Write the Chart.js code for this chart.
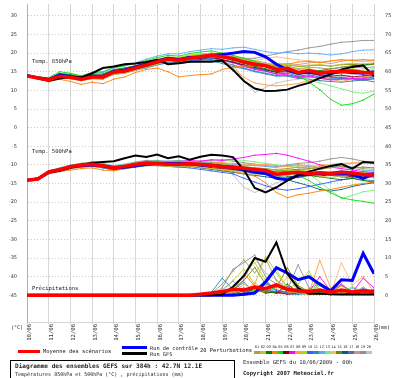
<!DOCTYPE html>
<html>
<head>
<meta charset="utf-8">
<script src="https://cdn.jsdelivr.net/npm/chart.js@4.4.0/dist/chart.umd.min.js"></script>
<style>
  body { margin: 0; background: #fff; width: 400px; height: 378px; overflow: hidden; position: relative; font-family: "DejaVu Sans Mono", monospace; color: #222; }
  #wrap { position: absolute; left: 0; top: 0; width: 400px; height: 345px; }
  .t { position: absolute; white-space: nowrap; line-height: 1; }
  .sw { position: absolute; }
  #box { position: absolute; left: 10px; top: 360px; width: 225px; height: 20px; border: 1px solid #000; box-sizing: border-box; }
  #perts { position: absolute; left: 254px; top: 346px; display: flex; }
  #perts div { width: 5.9px; text-align: center; font-size: 3.6px; line-height: 1; }
  #perts span { display: block; height: 3px; margin-top: 1px; }
</style>
</head>
<body>
<div id="wrap"><canvas id="gefs" width="400" height="345"></canvas></div>

<div class="t" style="left:32px;top:59px;font-size:5.5px">Temp. 850hPa</div>
<div class="t" style="left:32px;top:149px;font-size:5.5px">Temp. 500hPa</div>
<div class="t" style="left:32px;top:286px;font-size:5.5px">Précipitations</div>
<div class="t" style="left:11px;top:325px;font-size:5px">(°C)</div>
<div class="t" style="left:378px;top:325px;font-size:5px">(mm)</div>

<div class="sw" style="left:18px;top:350px;width:22px;height:3px;background:#ff0000"></div>
<div class="t" style="left:43px;top:349px;font-size:5.4px">Moyenne des scénarios</div>
<div class="sw" style="left:122px;top:346px;width:25px;height:3px;background:#0000ff"></div>
<div class="sw" style="left:122px;top:352px;width:25px;height:3px;background:#000"></div>
<div class="t" style="left:150px;top:346px;font-size:5.3px">Run de contrôle</div>
<div class="t" style="left:150px;top:352px;font-size:5.3px">Run GFS</div>
<div class="t" style="left:200px;top:348px;font-size:5.4px">20 Perturbations</div>
<div id="perts"></div>

<div id="box"></div>
<div class="t" style="left:15px;top:363px;font-size:6.1px;font-weight:bold">Diagramme des ensembles GEFS sur 384h : 42.7N 12.1E</div>
<div class="t" style="left:15px;top:372px;font-size:5px">Températures 850hPa et 500hPa (°C) , précipitations (mm)</div>
<div class="t" style="left:243px;top:360px;font-size:5.5px">Ensemble GEFS du 10/06/2009 - 00h</div>
<div class="t" style="left:243px;top:371px;font-size:5.6px;font-weight:bold">Copyright 2007 Meteociel.fr</div>

<script>
const hours = [0, 12, 24, 36, 48, 60, 72, 84, 96, 108, 120, 132, 144, 156, 168, 180, 192,
  204, 216, 228, 240, 252, 264, 276, 288, 300, 312, 324, 336, 348, 360, 372, 384];
const dayLabels = ['10/06', '11/06', '12/06', '13/06', '14/06', '15/06', '16/06', '17/06', '18/06',
  '19/06', '20/06', '21/06', '22/06', '23/06', '24/06', '25/06', '26/06'];
const leftTicks = [30, 25, 20, 15, 10, 5, 0, -5, -10, -15, -20, -25, -30, -35, -40, -45];
const rightTicks = [75, 70, 65, 60, 55, 50, 45, 40, 35, 30, 25, 20, 15, 10, 5, 0];

// 850 hPa (°C)
const t850Mean = [13.9, 13.3, 12.8, 13.8, 13.5, 13.0, 13.6, 13.6, 14.9, 15.2, 16.0, 16.8, 17.7,
  18.4, 18.1, 18.6, 19.0, 19.4, 19.0, 18.5, 17.6, 17.0, 16.6, 15.6, 15.9, 14.8, 15.3, 14.7, 15.0, 15.1, 15.2, 14.8, 14.6];
const t850Ctrl = [14.0, 13.4, 12.9, 14.1, 13.7, 13.2, 13.8, 13.8, 15.1, 15.5, 16.3, 17.0, 17.9,
  18.6, 18.3, 18.8, 18.9, 19.4, 19.6, 20.0, 20.4, 20.2, 19.0, 17.0, 15.5, 14.6, 15.0, 14.8, 14.6, 15.0, 14.8, 14.6, 15.0];
const t850Gfs = [13.9, 13.2, 12.6, 13.2, 13.6, 13.5, 14.6, 16.0, 16.4, 17.0, 17.2, 17.6, 18.2,
  17.0, 17.3, 17.7, 17.7, 17.7, 18.0, 15.5, 12.5, 10.5, 9.8, 9.9, 10.2, 11.2, 12.0, 13.3, 14.3, 15.6, 16.3, 16.7, 13.8];
const t850Perts = [
  [13.9, 13.4, 13.0, 14.2, 13.9, 13.3, 14.0, 14.2, 15.4, 15.8, 16.5, 17.2, 18.2, 18.8, 18.5, 19.0, 19.3, 19.8, 19.4, 19.0, 18.2, 17.5, 17.0, 16.3, 16.6, 15.8, 16.2, 16.0, 15.7, 16.2, 16.4, 16.0, 16.3],
  [13.9, 13.2, 12.6, 13.6, 13.2, 12.7, 13.1, 13.0, 14.3, 14.6, 15.4, 16.2, 17.0, 17.8, 17.6, 18.2, 18.6, 19.0, 18.7, 18.4, 17.8, 17.4, 17.2, 16.8, 17.0, 16.5, 16.8, 16.9, 16.6, 17.0, 17.3, 17.1, 17.4],
  [13.9, 13.5, 13.1, 14.5, 14.2, 13.6, 14.3, 14.4, 15.6, 16.0, 16.6, 17.3, 18.0, 18.6, 18.4, 19.1, 19.2, 19.5, 18.9, 18.0, 17.2, 16.5, 15.8, 15.0, 15.4, 14.6, 15.0, 15.3, 15.8, 16.2, 16.6, 16.8, 17.2],
  [13.9, 13.1, 12.3, 13.0, 12.4, 11.6, 12.2, 11.8, 13.0, 13.6, 14.8, 15.6, 16.0, 15.0, 13.6, 14.0, 14.2, 14.4, 15.6, 16.2, 16.6, 16.4, 16.8, 17.2, 17.0, 17.6, 17.8, 17.4, 17.9, 18.2, 18.0, 18.3, 18.0],
  [13.9, 13.6, 13.4, 15.0, 14.6, 13.9, 14.8, 15.0, 16.2, 16.6, 17.2, 18.0, 18.8, 19.4, 19.2, 19.9, 20.3, 20.6, 20.0, 19.4, 18.6, 17.8, 17.0, 16.2, 15.4, 14.2, 12.2, 10.2, 7.6, 6.0, 6.4, 7.4, 9.0],
  [13.9, 13.3, 12.9, 13.9, 13.4, 12.8, 13.4, 13.3, 14.6, 14.9, 15.8, 16.4, 17.2, 17.9, 17.6, 18.3, 18.4, 18.9, 18.2, 17.6, 16.8, 16.2, 15.6, 14.8, 15.0, 14.3, 14.6, 14.2, 13.8, 14.1, 13.6, 13.9, 14.2],
  [13.9, 13.4, 12.8, 13.7, 13.4, 12.9, 13.5, 13.5, 14.7, 15.0, 15.9, 16.6, 17.5, 18.2, 17.9, 18.4, 18.8, 19.0, 18.3, 17.5, 16.4, 15.6, 15.1, 14.4, 14.2, 13.6, 13.9, 13.3, 12.8, 13.0, 13.2, 13.1, 13.6],
  [13.9, 13.2, 12.7, 13.5, 13.1, 12.6, 13.2, 13.1, 14.4, 14.9, 15.6, 16.5, 17.4, 18.0, 17.8, 18.4, 18.8, 19.0, 18.4, 16.0, 13.5, 12.0, 11.5, 11.2, 11.5, 11.8, 12.6, 13.2, 13.0, 12.4, 13.0, 13.6, 14.0],
  [13.9, 13.4, 13.0, 14.4, 14.0, 13.4, 14.1, 14.2, 15.5, 15.9, 16.6, 17.5, 18.4, 19.0, 18.8, 19.5, 19.8, 20.0, 19.6, 19.2, 18.4, 17.6, 16.8, 16.0, 16.4, 15.6, 15.8, 15.2, 15.0, 15.6, 15.8, 15.4, 15.8],
  [13.9, 13.3, 12.7, 13.6, 13.3, 12.8, 13.3, 13.2, 14.5, 14.8, 15.6, 16.3, 17.2, 17.8, 17.6, 18.0, 18.2, 18.6, 18.0, 17.4, 16.6, 15.8, 15.2, 14.4, 14.6, 13.8, 14.2, 13.6, 13.2, 13.5, 13.2, 13.4, 13.8],
  [13.9, 13.2, 12.6, 13.5, 13.2, 12.6, 13.2, 13.0, 14.3, 14.6, 15.4, 16.0, 16.8, 17.4, 17.2, 17.6, 17.8, 18.0, 17.2, 16.4, 15.8, 15.0, 14.4, 13.8, 14.0, 13.4, 13.6, 13.2, 12.9, 13.2, 13.0, 12.9, 13.2],
  [13.9, 13.5, 13.2, 14.6, 14.3, 13.8, 14.6, 14.8, 16.0, 16.6, 17.4, 18.4, 19.2, 19.8, 19.8, 20.4, 20.8, 21.2, 21.0, 21.4, 21.6, 21.0, 20.4, 20.0, 20.2, 19.8, 20.0, 19.8, 19.5, 19.8, 20.4, 20.8, 20.9],
  [13.9, 13.4, 12.9, 14.0, 13.7, 13.2, 13.8, 13.8, 15.1, 15.5, 16.3, 17.1, 18.0, 18.6, 18.4, 19.0, 19.3, 19.6, 19.0, 18.6, 17.8, 17.0, 16.6, 16.2, 15.2, 13.8, 12.8, 12.0, 11.2, 10.4, 9.6, 9.2, 9.8],
  [13.9, 13.3, 12.8, 13.8, 13.6, 13.1, 13.7, 13.7, 15.0, 15.4, 16.2, 17.0, 17.9, 18.5, 18.3, 18.8, 19.2, 19.4, 19.0, 18.7, 18.2, 18.0, 18.6, 19.0, 18.6, 18.2, 18.0, 17.6, 17.9, 18.3, 18.0, 17.7, 18.0],
  [13.9, 13.3, 12.8, 13.9, 13.5, 13.0, 13.6, 13.7, 15.0, 15.3, 16.1, 16.9, 17.8, 18.4, 18.2, 18.8, 19.2, 19.6, 19.2, 18.8, 18.0, 17.4, 17.0, 16.6, 16.9, 16.4, 16.6, 16.8, 16.5, 16.9, 17.0, 16.7, 17.0],
  [13.9, 13.3, 12.8, 13.7, 13.4, 12.9, 13.4, 13.4, 14.7, 15.0, 15.8, 16.6, 17.4, 18.0, 17.8, 18.2, 18.5, 18.8, 18.2, 17.6, 16.8, 16.0, 15.4, 15.0, 15.3, 14.8, 14.6, 14.0, 13.6, 13.2, 12.9, 12.8, 13.1],
  [13.9, 13.2, 12.7, 13.6, 13.2, 12.7, 13.2, 13.1, 14.4, 14.7, 15.5, 16.2, 17.0, 17.6, 17.4, 17.9, 18.1, 18.3, 17.6, 16.8, 16.0, 15.2, 14.6, 14.0, 13.8, 13.2, 13.0, 12.6, 12.4, 12.2, 12.5, 12.8, 12.3],
  [13.9, 13.4, 13.0, 14.1, 13.8, 13.3, 14.0, 14.0, 15.3, 15.7, 16.5, 17.3, 18.2, 18.8, 18.6, 19.2, 19.6, 19.8, 19.4, 19.0, 18.6, 18.0, 17.4, 16.8, 17.2, 16.9, 17.4, 17.6, 17.2, 17.8, 18.2, 17.8, 18.2],
  [13.9, 13.3, 12.9, 14.0, 13.7, 13.2, 13.8, 13.9, 15.2, 15.6, 16.4, 17.2, 18.1, 18.7, 18.5, 19.1, 19.4, 19.8, 19.4, 19.0, 18.6, 18.6, 19.2, 19.8, 20.4, 20.8, 21.4, 21.8, 22.4, 22.9, 23.1, 23.4, 23.4],
  [13.9, 13.3, 12.8, 13.8, 13.5, 13.0, 13.6, 13.6, 14.9, 15.3, 16.1, 17.0, 18.0, 18.8, 18.8, 19.4, 19.8, 20.0, 19.8, 17.0, 12.5, 9.5, 10.8, 12.0, 12.6, 13.0, 13.8, 14.4, 14.0, 13.6, 14.2, 14.8, 15.0]
];

// 500 hPa (°C)
const t500Mean = [-14.1, -13.8, -11.9, -11.3, -10.5, -10.0, -9.8, -10.2, -10.8, -10.4, -9.9, -9.5, -9.6,
  -9.8, -9.8, -9.7, -9.8, -10.1, -10.4, -10.6, -10.9, -11.2, -11.5, -12.5, -12.2, -12.0, -12.3, -12.1, -12.3, -12.0, -12.2, -12.6, -12.7];
const t500Ctrl = [-14.1, -13.8, -12.0, -11.4, -10.6, -10.2, -10.0, -10.3, -10.9, -10.6, -10.2, -9.8, -9.7,
  -9.6, -9.6, -9.7, -10.0, -10.1, -10.4, -10.6, -11.4, -12.0, -12.3, -13.6, -14.0, -12.8, -12.5, -12.3, -12.4, -12.3, -12.6, -13.6, -12.4];
const t500Gfs = [-14.1, -13.6, -12.0, -11.6, -10.8, -10.0, -9.4, -9.2, -9.0, -8.2, -7.5, -7.9, -7.2,
  -8.2, -7.7, -8.6, -7.8, -7.3, -7.5, -7.9, -11.3, -16.2, -17.4, -16.0, -14.2, -12.8, -11.8, -11.0, -10.3, -9.8, -11.0, -9.2, -9.4];
const t500Perts = [
  [-14.1, -13.7, -12.2, -11.6, -10.2, -9.6, -9.4, -10.0, -10.6, -10.0, -9.4, -9.0, -9.2, -9.4, -9.0, -9.2, -9.6, -9.4, -9.8, -10.2, -10.4, -10.8, -11.0, -11.4, -11.0, -10.6, -10.8, -11.2, -10.8, -10.4, -10.6, -11.0, -11.2],
  [-14.1, -13.9, -12.0, -11.2, -10.8, -10.4, -10.2, -10.6, -11.2, -10.8, -10.4, -10.0, -10.2, -10.4, -10.6, -10.2, -10.6, -11.0, -11.2, -11.6, -12.0, -12.4, -12.6, -13.0, -12.8, -12.4, -12.6, -13.0, -13.4, -13.0, -12.8, -13.2, -13.4],
  [-14.1, -13.6, -11.6, -11.0, -10.2, -9.8, -9.6, -10.0, -10.4, -10.2, -9.6, -9.2, -9.4, -9.6, -9.8, -9.4, -9.8, -10.2, -10.6, -10.8, -11.2, -11.6, -12.0, -12.6, -13.0, -13.4, -12.8, -13.2, -13.6, -14.0, -13.6, -14.2, -14.6],
  [-14.1, -13.8, -12.4, -11.8, -11.4, -11.0, -10.8, -11.4, -11.6, -11.0, -10.4, -10.0, -9.8, -10.2, -10.0, -10.4, -10.6, -11.0, -11.4, -11.8, -12.4, -13.0, -14.8, -17.4, -18.8, -18.0, -17.6, -17.0, -16.6, -16.0, -15.4, -15.0, -14.6],
  [-14.1, -13.7, -11.8, -11.2, -10.4, -10.0, -9.8, -10.0, -10.6, -10.2, -9.8, -9.2, -9.0, -9.2, -9.0, -9.4, -9.6, -9.8, -10.0, -10.2, -10.6, -10.8, -11.0, -11.4, -12.0, -12.8, -14.2, -16.0, -17.5, -18.8, -19.4, -19.8, -20.3],
  [-14.1, -13.8, -12.0, -11.4, -10.6, -10.2, -10.0, -10.4, -11.0, -10.6, -10.2, -9.8, -9.8, -10.0, -10.2, -10.0, -10.4, -10.8, -11.0, -11.2, -11.6, -12.0, -12.2, -12.8, -12.6, -12.4, -12.8, -13.0, -12.6, -12.8, -13.2, -13.0, -13.4],
  [-14.1, -13.7, -11.8, -11.2, -10.4, -9.8, -9.6, -10.0, -10.6, -10.2, -9.6, -9.0, -9.2, -9.4, -9.2, -8.8, -9.0, -8.6, -8.8, -8.4, -8.0, -7.4, -7.2, -6.9, -7.4, -8.2, -9.0, -10.0, -10.6, -11.0, -11.4, -11.8, -12.0],
  [-14.1, -13.8, -12.2, -11.6, -11.0, -10.6, -10.4, -10.6, -11.2, -10.8, -10.2, -9.8, -9.6, -9.8, -9.4, -9.2, -9.0, -9.2, -9.4, -9.6, -9.8, -10.0, -9.8, -10.2, -10.4, -10.0, -10.2, -10.6, -10.2, -9.8, -9.6, -9.4, -9.6],
  [-14.1, -13.6, -11.8, -11.0, -10.2, -9.6, -9.4, -9.8, -10.4, -10.0, -9.4, -9.0, -9.0, -9.2, -9.4, -9.6, -9.8, -10.2, -10.4, -10.8, -11.0, -11.4, -11.6, -12.0, -11.6, -11.4, -11.8, -12.2, -11.8, -12.2, -12.6, -12.0, -12.4],
  [-14.1, -13.9, -12.2, -11.6, -10.8, -10.4, -10.2, -10.6, -11.2, -10.8, -10.4, -10.0, -10.0, -10.2, -10.6, -10.8, -11.2, -11.6, -12.0, -12.4, -13.6, -14.6, -15.6, -16.4, -16.8, -16.4, -15.8, -15.2, -14.6, -14.0, -13.6, -13.2, -13.0],
  [-14.1, -13.7, -12.0, -11.4, -10.4, -10.0, -9.8, -10.2, -10.8, -10.4, -10.0, -9.6, -9.6, -9.8, -10.0, -10.2, -10.4, -10.8, -11.0, -11.4, -11.8, -12.2, -12.6, -13.0, -13.4, -13.0, -12.6, -12.2, -12.8, -13.2, -13.6, -14.0, -14.2],
  [-14.1, -13.6, -11.6, -10.8, -10.0, -9.6, -9.2, -9.6, -10.2, -9.8, -9.2, -8.8, -8.8, -9.0, -8.8, -9.0, -9.2, -9.4, -9.6, -9.8, -10.0, -10.2, -10.4, -10.6, -10.2, -10.0, -10.4, -10.8, -10.4, -10.6, -11.0, -11.4, -11.6],
  [-14.1, -13.8, -12.0, -11.4, -10.6, -10.2, -9.8, -10.2, -10.8, -10.4, -10.0, -9.6, -9.4, -9.6, -9.4, -9.2, -9.4, -9.6, -9.0, -8.6, -8.8, -9.2, -9.6, -10.0, -10.4, -10.6, -12.4, -14.6, -16.8, -19.0, -18.2, -17.2, -16.8],
  [-14.1, -13.7, -12.0, -11.2, -10.4, -9.8, -9.6, -10.0, -10.6, -10.2, -9.6, -9.2, -9.2, -9.0, -8.8, -9.0, -9.4, -9.6, -9.8, -10.0, -10.2, -10.0, -10.4, -10.8, -11.0, -10.6, -10.4, -10.0, -9.8, -9.6, -9.4, -9.2, -9.6],
  [-14.1, -13.8, -12.2, -11.6, -10.8, -10.2, -10.0, -10.4, -11.0, -10.6, -10.0, -9.6, -9.6, -9.8, -10.0, -9.8, -10.0, -10.4, -10.6, -10.8, -11.2, -11.4, -11.6, -11.8, -11.4, -11.2, -11.0, -10.6, -10.2, -10.4, -10.8, -10.6, -10.8],
  [-14.1, -13.9, -12.2, -11.8, -11.0, -10.6, -10.4, -10.8, -11.4, -11.0, -10.6, -10.2, -10.2, -10.4, -10.6, -10.4, -10.8, -11.2, -11.6, -12.0, -12.4, -12.8, -13.2, -13.6, -14.0, -14.8, -15.6, -16.6, -17.0, -16.6, -15.8, -15.2, -14.8],
  [-14.1, -13.8, -12.0, -11.4, -10.6, -10.0, -9.8, -10.2, -10.8, -10.4, -9.8, -9.4, -9.4, -9.6, -9.6, -9.8, -10.0, -10.4, -10.6, -11.0, -11.4, -11.8, -12.2, -12.4, -12.0, -11.6, -12.0, -12.4, -12.0, -11.6, -11.8, -12.2, -12.0],
  [-14.1, -13.7, -11.8, -11.2, -10.4, -9.8, -9.6, -10.0, -10.6, -10.2, -9.6, -9.2, -9.4, -9.6, -9.4, -9.6, -9.8, -10.0, -10.4, -10.6, -10.8, -11.0, -11.4, -11.8, -11.6, -11.2, -11.4, -11.8, -12.2, -12.6, -13.0, -12.8, -13.2],
  [-14.1, -13.7, -11.8, -11.2, -10.4, -9.8, -9.6, -10.0, -10.4, -10.0, -9.4, -9.0, -9.0, -9.2, -9.0, -9.2, -9.0, -8.8, -8.6, -9.0, -9.4, -9.8, -10.2, -10.4, -10.0, -9.6, -9.4, -9.0, -8.4, -8.0, -8.4, -9.0, -9.2],
  [-14.1, -13.8, -12.0, -11.4, -10.6, -10.2, -10.0, -10.2, -10.8, -10.4, -9.8, -9.4, -9.4, -9.6, -9.4, -9.6, -9.8, -10.2, -10.6, -12.6, -16.0, -17.4, -16.2, -14.8, -14.0, -13.4, -13.0, -12.6, -12.8, -13.2, -13.4, -13.0, -13.4]
];

// precipitations (mm)
const rainMean = [0, 0, 0, 0, 0, 0, 0, 0, 0, 0, 0, 0, 0, 0, 0, 0, 0.3,
  0.6, 1.0, 1.6, 1.4, 2.2, 1.8, 2.8, 1.6, 1.2, 1.0, 1.4, 0.8, 1.4, 0.9, 1.2, 1.0];
const rainCtrl = [0, 0, 0, 0, 0, 0, 0, 0, 0, 0, 0, 0, 0, 0, 0, 0, 0,
  0, 0, 0, 0.3, 0.6, 3.6, 7.4, 6.0, 4.2, 5.0, 3.0, 1.2, 4.2, 4.0, 11.3, 5.8];
const rainGfs = [0, 0, 0, 0, 0, 0, 0, 0, 0, 0, 0, 0, 0, 0, 0, 0, 0,
  0, 0.3, 2.3, 5.2, 10.0, 9.0, 14.2, 5.8, 2.0, 0.4, 0.5, 0.3, 0.2, 0.3, 0.2, 0.2];
const rainPerts = [
  [0, 0, 0, 0, 0, 0, 0, 0, 0, 0, 0, 0, 0, 0, 0, 0, 0, 0.5, 3.0, 6.5, 9.5, 6.0, 9.8, 4.0, 1.5, 0.5, 0.2, 1.0, 0.3, 0.4, 0.2, 0.6, 0.3],
  [0, 0, 0, 0, 0, 0, 0, 0, 0, 0, 0, 0, 0, 0, 0, 0, 0, 0, 1.0, 4.0, 7.0, 3.0, 10.5, 6.0, 2.0, 1.0, 0.4, 0.2, 0.8, 0.3, 1.2, 0.4, 0.2],
  [0, 0, 0, 0, 0, 0, 0, 0, 0, 0, 0, 0, 0, 0, 0, 0, 0, 0, 0, 0.4, 1.2, 2.4, 1.0, 0.6, 3.0, 0.8, 0.4, 0.3, 0.6, 0.3, 0.2, 0.5, 0.3],
  [0, 0, 0, 0, 0, 0, 0, 0, 0, 0, 0, 0, 0, 0, 0, 0, 0, 0, 0, 1.0, 5.8, 2.5, 1.5, 3.2, 1.0, 0.5, 1.8, 0.4, 0.8, 2.6, 0.6, 0.4, 1.0],
  [0, 0, 0, 0, 0, 0, 0, 0, 0, 0, 0, 0, 0, 0, 0, 0, 0, 0, 0, 0, 0.5, 1.5, 0.8, 2.4, 1.2, 0.6, 1.4, 3.4, 1.0, 2.6, 1.2, 0.8, 1.6],
  [0, 0, 0, 0, 0, 0, 0, 0, 0, 0, 0, 0, 0, 0, 0, 0, 0, 0, 0, 0, 0.4, 2.0, 0.6, 0.9, 0.3, 0.5, 1.2, 0.4, 0.2, 0.6, 0.3, 0.9, 0.4],
  [0, 0, 0, 0, 0, 0, 0, 0, 0, 0, 0, 0, 0, 0, 0, 0, 0, 0, 0, 0, 0, 0.8, 1.6, 0.6, 2.4, 0.8, 1.0, 5.0, 1.2, 3.0, 0.8, 4.6, 2.0],
  [0, 0, 0, 0, 0, 0, 0, 0, 0, 0, 0, 0, 0, 0, 0, 0, 0, 0, 0, 0.8, 3.0, 1.4, 0.6, 1.0, 0.4, 2.0, 0.6, 9.4, 2.0, 0.8, 1.2, 0.6, 0.6],
  [0, 0, 0, 0, 0, 0, 0, 0, 0, 0, 0, 0, 0, 0, 0, 0, 0, 0, 0, 2.0, 5.5, 8.8, 4.0, 6.8, 2.0, 3.0, 6.5, 1.0, 0.5, 0.8, 0.3, 0.6, 0.2],
  [0, 0, 0, 0, 0, 0, 0, 0, 0, 0, 0, 0, 0, 0, 0, 0, 0, 0, 0, 0, 0.6, 1.8, 3.6, 1.2, 0.8, 2.0, 0.6, 0.9, 0.4, 1.2, 0.6, 1.8, 0.8],
  [0, 0, 0, 0, 0, 0, 0, 0, 0, 0, 0, 0, 0, 0, 0, 0, 0, 0.8, 4.6, 1.5, 3.5, 0.8, 1.6, 0.5, 0.4, 0.2, 0.6, 0.3, 0.2, 0.4, 0.3, 0.2, 0.5],
  [0, 0, 0, 0, 0, 0, 0, 0, 0, 0, 0, 0, 0, 0, 0, 0, 0, 0, 1.5, 3.8, 1.0, 0.6, 2.2, 0.8, 0.5, 1.2, 0.4, 0.6, 0.3, 0.4, 2.0, 0.8, 0.4],
  [0, 0, 0, 0, 0, 0, 0, 0, 0, 0, 0, 0, 0, 0, 0, 0, 0, 0, 0, 0, 0.4, 1.2, 2.8, 0.8, 1.8, 0.6, 0.9, 2.6, 0.8, 0.5, 2.4, 0.9, 1.2],
  [0, 0, 0, 0, 0, 0, 0, 0, 0, 0, 0, 0, 0, 0, 0, 0, 0, 0, 0, 0.5, 1.0, 3.4, 1.2, 0.8, 5.0, 1.4, 0.6, 1.2, 0.4, 8.8, 2.6, 5.2, 0.8],
  [0, 0, 0, 0, 0, 0, 0, 0, 0, 0, 0, 0, 0, 0, 0, 0, 0, 0, 0, 1.6, 4.0, 7.5, 3.0, 2.0, 7.4, 2.6, 1.0, 0.6, 0.3, 0.6, 0.3, 0.5, 0.2],
  [0, 0, 0, 0, 0, 0, 0, 0, 0, 0, 0, 0, 0, 0, 0, 0, 0, 0, 0, 0, 0.3, 0.8, 1.6, 0.6, 1.0, 0.4, 0.8, 0.3, 1.0, 0.4, 0.8, 0.5, 0.4],
  [0, 0, 0, 0, 0, 0, 0, 0, 0, 0, 0, 0, 0, 0, 0, 0, 0, 0, 0, 0.6, 2.0, 0.8, 4.0, 1.2, 0.6, 1.6, 0.4, 0.8, 0.3, 0.6, 0.4, 0.6, 0.3],
  [0, 0, 0, 0, 0, 0, 0, 0, 0, 0, 0, 0, 0, 0, 0, 0, 0, 0, 0, 0, 0.8, 2.6, 1.2, 1.6, 0.4, 1.0, 0.6, 3.2, 0.6, 1.4, 0.5, 2.2, 0.6],
  [0, 0, 0, 0, 0, 0, 0, 0, 0, 0, 0, 0, 0, 0, 0, 0, 0, 0, 2.0, 7.0, 8.8, 10.8, 5.0, 3.0, 1.4, 8.2, 2.0, 0.8, 0.4, 0.6, 0.3, 0.4, 0.2],
  [0, 0, 0, 0, 0, 0, 0, 0, 0, 0, 0, 0, 0, 0, 0, 0, 0, 0, 0, 1.2, 4.4, 9.8, 6.0, 4.2, 2.0, 1.0, 0.6, 0.9, 0.4, 0.6, 0.3, 0.5, 0.3]
];

const pertColors = ['#a8a050', '#c8c030', '#008000', '#ff8000', '#00e000', '#800000', '#ff00ff', '#ff9c40', '#a0e000', '#3060ff',
  '#2090c0', '#60a8ff', '#70f070', '#ffb870', '#808000', '#006080', '#5070a0', '#d09090', '#909090', '#c0c0c0'];

// legend swatches for the 20 perturbations
const pertBox = document.getElementById('perts');
pertColors.forEach((c, i) => {
  const d = document.createElement('div');
  d.textContent = String(i + 1).padStart(2, '0');
  const s = document.createElement('span');
  s.style.background = c;
  d.appendChild(s);
  pertBox.appendChild(d);
});

function pts(values) {
  return values.map((v, i) => ({ x: hours[i], y: v }));
}

function mainSet(values, color, width, axis) {
  return {
    data: pts(values), yAxisID: axis, borderColor: color, backgroundColor: color,
    borderWidth: width, pointRadius: 0, tension: 0, fill: false
  };
}

function pertSet(values, color, axis) {
  return {
    data: pts(values), yAxisID: axis, borderColor: color, backgroundColor: color,
    borderWidth: 0.9, pointRadius: 0.8, pointBorderWidth: 0, pointStyle: 'rect', tension: 0, fill: false
  };
}

// first dataset is drawn on top
const datasets = [];
datasets.push(mainSet(t850Mean, '#ff0000', 3.5, 'y'));
datasets.push(mainSet(t500Mean, '#ff0000', 3.5, 'y'));
datasets.push(mainSet(rainMean, '#ff0000', 3.5, 'y2'));
datasets.push(mainSet(t850Gfs, '#000000', 2, 'y'));
datasets.push(mainSet(t500Gfs, '#000000', 2, 'y'));
datasets.push(mainSet(rainGfs, '#000000', 2, 'y2'));
datasets.push(mainSet(t850Ctrl, '#0000ff', 3, 'y'));
datasets.push(mainSet(t500Ctrl, '#0000ff', 3, 'y'));
datasets.push(mainSet(rainCtrl, '#0000ff', 3, 'y2'));
for (let i = 0; i < 20; i++) {
  datasets.push(pertSet(t850Perts[i], pertColors[i], 'y'));
  datasets.push(pertSet(t500Perts[i], pertColors[i], 'y'));
  datasets.push(pertSet(rainPerts[i], pertColors[i], 'y2'));
}

const tickFont = { family: 'DejaVu Sans', size: 5 };

new Chart(document.getElementById('gefs').getContext('2d'), {
  type: 'line',
  data: { datasets: datasets },
  options: {
    responsive: false,
    animation: false,
    devicePixelRatio: 1,
    layout: { padding: 0 },
    plugins: { legend: { display: false }, tooltip: { enabled: false } },
    scales: {
      x: {
        type: 'linear', min: 0, max: 384,
        afterBuildTicks: s => { s.ticks = hours.filter(h => h % 24 === 0).map(h => ({ value: h })); },
        afterFit: s => { s.height = 23; s.paddingLeft = 0; s.paddingRight = 0; },
        ticks: {
          minRotation: 90, maxRotation: 90, padding: 0, labelOffset: 3,
          font: { family: 'DejaVu Sans Mono', size: 5.6 }, color: '#333',
          callback: v => dayLabels[v / 24]
        },
        grid: { color: '#d6d6d6', tickLength: 2 },
        border: { color: '#d6d6d6' }
      },
      y: {
        position: 'left', min: -52.16, max: 33.18,
        afterBuildTicks: s => { s.ticks = leftTicks.map(v => ({ value: v })); },
        afterFit: s => { s.width = 27; s.paddingTop = 0; s.paddingBottom = 0; },
        ticks: { padding: 10, font: tickFont, color: '#333' },
        grid: { color: '#cccccc', drawTicks: false },
        border: { color: '#b0b0b0', dash: [1, 2] }
      },
      y2: {
        position: 'right', min: -7.16, max: 78.18,
        afterBuildTicks: s => { s.ticks = rightTicks.map(v => ({ value: v })); },
        afterFit: s => { s.width = 26; s.paddingTop = 0; s.paddingBottom = 0; },
        ticks: { padding: 11, font: tickFont, color: '#333' },
        grid: { display: false, drawTicks: false },
        border: { display: false }
      }
    }
  }
});
</script>
</body>
</html>
